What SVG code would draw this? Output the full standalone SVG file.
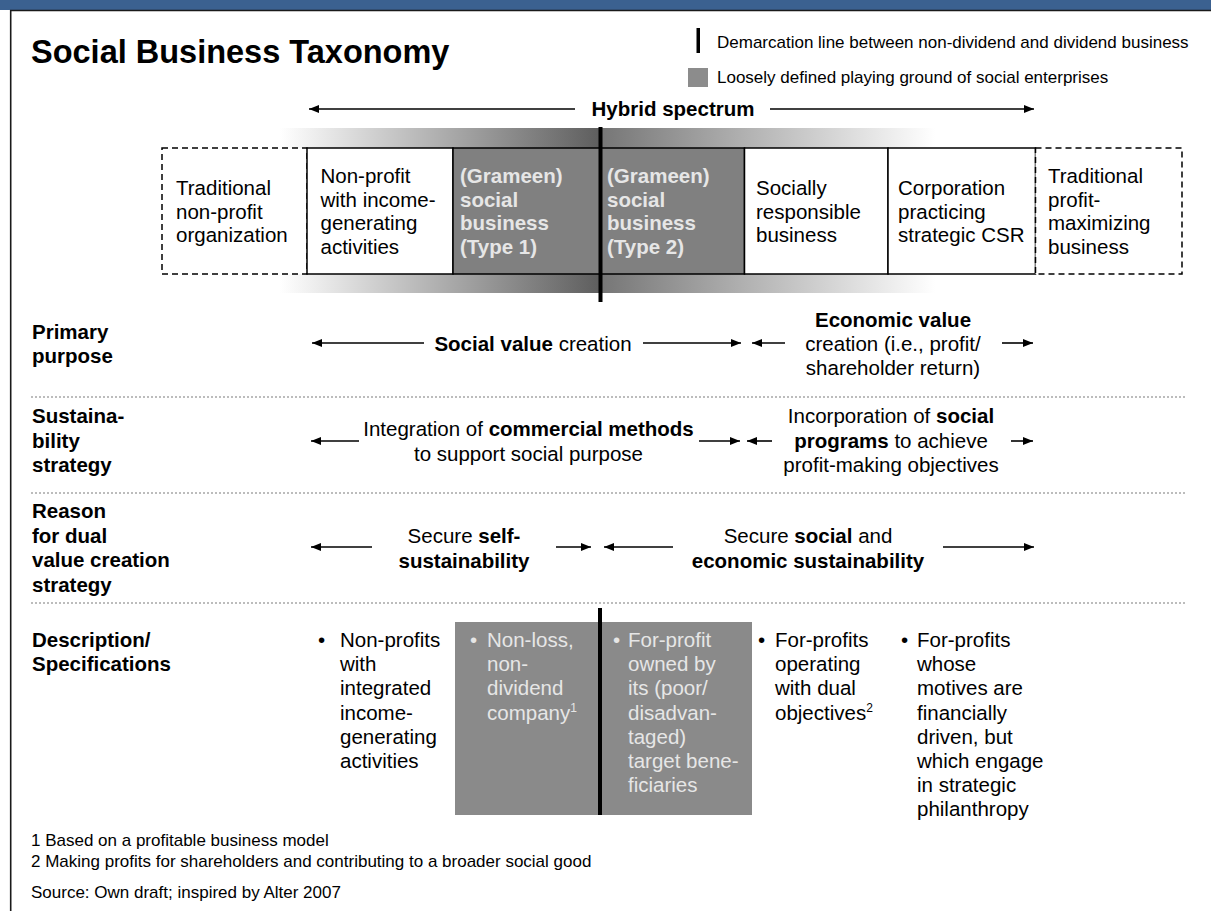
<svg xmlns="http://www.w3.org/2000/svg" width="1211" height="911" viewBox="0 0 1211 911">
<style>
text{font-family:"Liberation Sans",Arial,sans-serif;fill:#000;}
.t{font-size:20.5px;}
.b{font-weight:bold;}
.lt{fill:#e6e6e6;}
.sm{font-size:17px;}
.box{fill:#fff;stroke:#000;stroke-width:1.5;}
.dash{fill:#fff;stroke:#000;stroke-width:1.5;stroke-dasharray:6 4;}
.gbox{fill:#808080;stroke:#000;stroke-width:1.5;}
.arr{stroke:#000;stroke-width:1.6;fill:none;marker-end:url(#ah);}
.dot{stroke:#a6a6a6;stroke-width:1.6;stroke-dasharray:2 2;}
.demarc{stroke:#000;stroke-width:4;}
</style>
<defs>
<marker id="ah" markerUnits="userSpaceOnUse" markerWidth="11" markerHeight="9" refX="10" refY="4" orient="auto">
<path d="M0,0 L10,4 L0,8 z" fill="#000"/>
</marker>
<linearGradient id="band" gradientUnits="userSpaceOnUse" x1="280" y1="0" x2="935" y2="0">
<stop offset="0" stop-color="#ffffff"/>
<stop offset="0.488" stop-color="#5e5e5e"/>
<stop offset="0.49" stop-color="#767676"/>
<stop offset="1" stop-color="#ffffff"/>
</linearGradient>
</defs>

<rect x="0" y="0" width="1211" height="911" fill="#fff"/>
<rect x="0" y="0" width="1211" height="10" fill="#3b6190"/>
<path d="M10.7,911 V10.5 H1211" fill="none" stroke="#1a1a1a" stroke-width="1.6"/>

<text x="31" y="63" class="b" font-size="32.5">Social Business Taxonomy</text>

<g id="legend">
<rect x="696.5" y="28" width="3.5" height="25" fill="#000"/>
<text x="717" y="48" class="sm">Demarcation line between non-dividend and dividend business</text>
<rect x="688" y="68" width="20" height="19" fill="#8c8c8c"/>
<text x="717" y="83" class="sm">Loosely defined playing ground of social enterprises</text>
</g>

<g id="hybrid-spectrum">
<text x="673" y="116" class="t b" text-anchor="middle">Hybrid spectrum</text>
</g>

<rect x="280" y="128" width="655" height="165" fill="url(#band)"/>

<g id="n-traditional-nonprofit">
<rect x="162" y="148" width="145" height="126" class="dash"/>
<text class="t" x="176"><tspan x="176" y="195">Traditional</tspan><tspan x="176" y="218.5">non-profit</tspan><tspan x="176" y="242">organization</tspan></text>
</g>
<g id="n-nonprofit-income">
<rect x="307" y="148" width="146" height="126" class="box"/>
<text class="t" x="320.5"><tspan x="320.5" y="183">Non-profit</tspan><tspan x="320.5" y="206.5">with income-</tspan><tspan x="320.5" y="230">generating</tspan><tspan x="320.5" y="253.5">activities</tspan></text>
</g>
<g id="n-grameen-type1">
<rect x="453" y="148" width="147" height="126" class="gbox"/>
<text class="t b lt"><tspan x="460" y="183">(Grameen)</tspan><tspan x="460" y="206.5">social</tspan><tspan x="460" y="230">business</tspan><tspan x="460" y="253.5">(Type 1)</tspan></text>
</g>
<g id="n-grameen-type2">
<rect x="600" y="148" width="144.5" height="126" class="gbox"/>
<text class="t b lt"><tspan x="607" y="183">(Grameen)</tspan><tspan x="607" y="206.5">social</tspan><tspan x="607" y="230">business</tspan><tspan x="607" y="253.5">(Type 2)</tspan></text>
</g>
<g id="n-socially-responsible">
<rect x="744.5" y="148" width="143.5" height="126" class="box"/>
<text class="t"><tspan x="756" y="195">Socially</tspan><tspan x="756" y="218.5">responsible</tspan><tspan x="756" y="242">business</tspan></text>
</g>
<g id="n-corporation-csr">
<rect x="888" y="148" width="147.5" height="126" class="box"/>
<text class="t"><tspan x="898" y="195">Corporation</tspan><tspan x="898" y="218.5">practicing</tspan><tspan x="898" y="242">strategic CSR</tspan></text>
</g>
<g id="n-traditional-profit">
<rect x="1035.5" y="148" width="146.5" height="126" class="dash"/>
<text class="t"><tspan x="1048" y="183">Traditional</tspan><tspan x="1048" y="206.5">profit-</tspan><tspan x="1048" y="230">maximizing</tspan><tspan x="1048" y="253.5">business</tspan></text>
</g>

<line x1="600.5" y1="127" x2="600.5" y2="302" class="demarc"/>

<g id="row-labels">
<text class="t b"><tspan x="32" y="339">Primary</tspan><tspan x="32" y="363">purpose</tspan></text>
<text class="t b"><tspan x="32" y="423">Sustaina-</tspan><tspan x="32" y="447.5">bility</tspan><tspan x="32" y="472">strategy</tspan></text>
<text class="t b"><tspan x="32" y="518">Reason</tspan><tspan x="32" y="542.5">for dual</tspan><tspan x="32" y="567">value creation</tspan><tspan x="32" y="591.5">strategy</tspan></text>
<text class="t b"><tspan x="32" y="647">Description/</tspan><tspan x="32" y="671">Specifications</tspan></text>
</g>

<g id="separators">
<line x1="31" y1="397" x2="1187" y2="397" class="dot"/>
<line x1="31" y1="493" x2="1187" y2="493" class="dot"/>
<line x1="31" y1="603" x2="1187" y2="603" class="dot"/>
</g>

<g id="n-social-value">
<text class="t" x="533" y="351" text-anchor="middle"><tspan class="b">Social value</tspan> creation</text>
</g>
<g id="n-economic-value">
<text class="t" text-anchor="middle"><tspan x="893" y="327" class="b">Economic value</tspan><tspan x="893" y="351">creation (i.e., profit/</tspan><tspan x="893" y="375">shareholder return)</tspan></text>
</g>
<g id="n-commercial-methods">
<text class="t" text-anchor="middle"><tspan x="528.5" y="436">Integration of <tspan class="b">commercial methods</tspan></tspan><tspan x="528.5" y="461">to support social purpose</tspan></text>
</g>
<g id="n-social-programs">
<text class="t" text-anchor="middle"><tspan x="891" y="423">Incorporation of <tspan class="b">social</tspan></tspan><tspan x="891" y="447.5"><tspan class="b">programs</tspan> to achieve</tspan><tspan x="891" y="472">profit-making objectives</tspan></text>
</g>
<g id="n-self-sustainability">
<text class="t" text-anchor="middle"><tspan x="464" y="543">Secure <tspan class="b">self-</tspan></tspan><tspan x="464" y="567.5" class="b">sustainability</tspan></text>
</g>
<g id="n-social-economic">
<text class="t" text-anchor="middle"><tspan x="808" y="543">Secure <tspan class="b">social</tspan> and</tspan><tspan x="808" y="567.5" class="b">economic sustainability</tspan></text>
</g>

<g id="connectors">
<line x1="575" y1="109" x2="309" y2="109" class="arr"/>
<line x1="770" y1="109" x2="1034" y2="109" class="arr"/>
<line x1="424" y1="343" x2="312" y2="343" class="arr"/>
<line x1="643" y1="343" x2="741" y2="343" class="arr"/>
<line x1="785" y1="343" x2="752" y2="343" class="arr"/>
<line x1="1002" y1="343" x2="1033" y2="343" class="arr"/>
<line x1="359" y1="441" x2="311" y2="441" class="arr"/>
<line x1="699" y1="441" x2="740" y2="441" class="arr"/>
<line x1="772" y1="441" x2="747" y2="441" class="arr"/>
<line x1="1011" y1="441" x2="1033" y2="441" class="arr"/>
<line x1="372" y1="547" x2="311" y2="547" class="arr"/>
<line x1="556" y1="547" x2="591" y2="547" class="arr"/>
<line x1="673" y1="547" x2="604" y2="547" class="arr"/>
<line x1="943" y1="547" x2="1034" y2="547" class="arr"/>
</g>

<rect x="455" y="622" width="297" height="193" fill="#8a8a8a"/>
<line x1="600" y1="608" x2="600" y2="815" class="demarc"/>

<g id="d-col1">
<text class="t" x="318" y="647">•</text>
<text class="t"><tspan x="340" y="647">Non-profits</tspan><tspan x="340" y="671.2">with</tspan><tspan x="340" y="695.4">integrated</tspan><tspan x="340" y="719.6">income-</tspan><tspan x="340" y="743.8">generating</tspan><tspan x="340" y="768">activities</tspan></text>
</g>
<g id="d-col2">
<text class="t lt" x="470" y="647">•</text>
<text class="t lt"><tspan x="487" y="647">Non-loss,</tspan><tspan x="487" y="671.2">non-</tspan><tspan x="487" y="695.4">dividend</tspan><tspan x="487" y="719.6">company<tspan font-size="12" dy="-8">1</tspan></tspan></text>
</g>
<g id="d-col3">
<text class="t lt" x="613" y="647">•</text>
<text class="t lt"><tspan x="628" y="647">For-profit</tspan><tspan x="628" y="671.2">owned by</tspan><tspan x="628" y="695.4">its (poor/</tspan><tspan x="628" y="719.6">disadvan-</tspan><tspan x="628" y="743.8">taged)</tspan><tspan x="628" y="768">target bene-</tspan><tspan x="628" y="792.2">ficiaries</tspan></text>
</g>
<g id="d-col4">
<text class="t" x="758" y="647">•</text>
<text class="t"><tspan x="775" y="647">For-profits</tspan><tspan x="775" y="671.2">operating</tspan><tspan x="775" y="695.4">with dual</tspan><tspan x="775" y="719.6">objectives<tspan font-size="12" dy="-8">2</tspan></tspan></text>
</g>
<g id="d-col5">
<text class="t" x="901" y="647">•</text>
<text class="t"><tspan x="917" y="647">For-profits</tspan><tspan x="917" y="671.2">whose</tspan><tspan x="917" y="695.4">motives are</tspan><tspan x="917" y="719.6">financially</tspan><tspan x="917" y="743.8">driven, but</tspan><tspan x="917" y="768">which engage</tspan><tspan x="917" y="792.2">in strategic</tspan><tspan x="917" y="816.4">philanthropy</tspan></text>
</g>

<g id="footnotes">
<text class="sm" x="31" y="846">1 Based on a profitable business model</text>
<text class="sm" x="31" y="867">2 Making profits for shareholders and contributing to a broader social good</text>
<text class="sm" x="31" y="898">Source: Own draft; inspired by Alter 2007</text>
</g>
</svg>
